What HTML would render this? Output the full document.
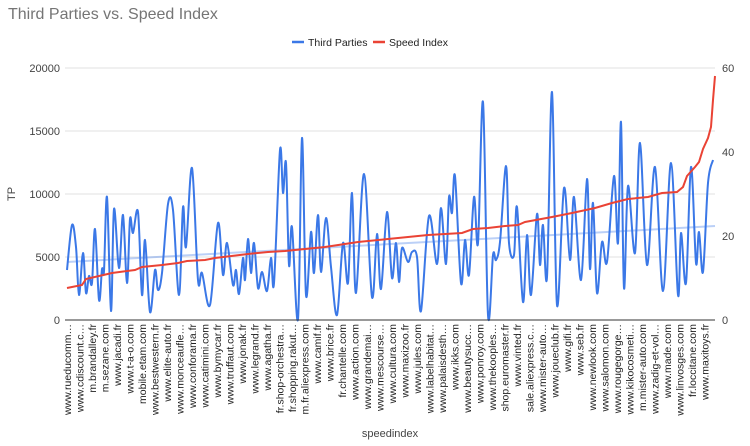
<!DOCTYPE html>
<html><head><meta charset="utf-8"><style>
body{margin:0;background:#fff;}
svg{display:block;font-family:"Liberation Sans",Arial,sans-serif;}
</style></head><body>
<svg id="s" width="750" height="446" viewBox="0 0 750 446">
<rect width="750" height="446" fill="#fff"/>
<text x="8" y="19" font-size="16" fill="#757575">Third Parties vs. Speed Index</text>
<line x1="292" y1="42" x2="304" y2="42" stroke="#3b78e7" stroke-width="2.5"/>
<text x="308" y="46" font-size="10.5" fill="#222">Third Parties</text>
<line x1="373" y1="42" x2="385" y2="42" stroke="#ea4335" stroke-width="2.5"/>
<text x="389" y="46" font-size="10.5" fill="#222">Speed Index</text>
<g stroke="#e0e0e0" stroke-width="1">
<line x1="65" y1="68" x2="715" y2="68"/><line x1="65" y1="131" x2="715" y2="131"/>
<line x1="65" y1="194" x2="715" y2="194"/><line x1="65" y1="257" x2="715" y2="257"/>
</g>
<g font-size="11" fill="#444" text-anchor="end">
<text x="60" y="72">20000</text><text x="60" y="135">15000</text><text x="60" y="198">10000</text><text x="60" y="261">5000</text><text x="60" y="324">0</text>
</g>
<g font-size="11" fill="#444">
<text x="722" y="72">60</text><text x="722" y="156">40</text><text x="722" y="240">20</text><text x="722" y="324">0</text>
</g>
<text transform="translate(15,194) rotate(-90)" font-size="11" fill="#444" text-anchor="middle">TP</text>
<text x="390" y="437" font-size="11" fill="#444" text-anchor="middle">speedindex</text>
<line x1="67" y1="262" x2="715" y2="226" stroke="#3b78e7" stroke-opacity="0.35" stroke-width="2"/>
<path id="blue" fill="none" stroke="#3b78e7" stroke-width="2"/>
<path id="red" fill="none" stroke="#ea4335" stroke-width="2"/>
<line x1="65" y1="320" x2="715" y2="320" stroke="#333" stroke-width="1"/>
<g id="xl" font-size="10.5" fill="#222" text-anchor="end"></g>
</svg>
<script>
var B=[[67,270],[72,225],[76,247],[79,295],[83,253],[86,293],[89,276],[92,283],[95,229],[99,300],[102,269],[104,271],[107,197],[111,311],[114,209],[119,268],[123,215],[127,283],[130,219],[133,233],[138,212],[142,295],[145,240],[150,312],[155,270],[158,290],[162,273],[168,204],[173,210],[179,295],[183,207],[186,247],[192,168],[198,280],[202,273],[210,305],[218,223],[223,275],[227,243],[233,285],[236,270],[239,294],[243,258],[245,280],[248,239],[251,273],[254,243],[258,288],[262,272],[267,291],[271,258],[274,283],[280,150],[283,193],[286,163],[289,265],[292,227],[298,319],[302,138],[306,295],[311,232],[314,273],[318,215],[321,272],[326,218],[331,267],[337,315],[343,243],[348,283],[352,193],[356,293],[364,174],[372,297],[377,234],[381,289],[387,212],[392,278],[396,243],[399,282],[402,248],[408,262],[412,252],[417,257],[421,311],[429,216],[437,264],[441,208],[446,264],[449,197],[452,213],[455,176],[461,283],[465,240],[469,275],[474,197],[478,243],[483,102],[488,315],[493,255],[496,260],[500,242],[506,166],[509,243],[514,255],[517,207],[523,302],[527,235],[531,295],[537,214],[540,265],[543,225],[547,277],[552,92],[557,305],[564,188],[570,260],[574,197],[581,280],[587,179],[590,269],[593,203],[597,293],[602,242],[607,262],[614,176],[618,243],[621,122],[624,288],[628,186],[635,253],[640,143],[647,265],[655,167],[663,291],[671,163],[678,295],[681,233],[686,283],[691,167],[696,263],[699,232],[703,272],[708,183],[713,160]];
var R=[[67,288],[82,285],[86,279],[112,273],[135,270],[142,267],[162,265],[178,263],[187,261],[205,260],[215,258],[248,254],[268,252],[285,251],[325,247],[358,242],[388,239],[398,238],[428,235],[462,233],[473,229],[488,228],[505,226],[518,225],[525,222],[552,217],[572,213],[595,208],[612,203],[628,199],[648,197],[662,193],[677,192],[683,187],[687,176],[695,167],[699,162],[703,149],[708,138],[711,127],[713,100],[715,76]];
function cr(p){var d="M"+p[0][0]+","+p[0][1];for(var i=0;i<p.length-1;i++){var a=p[i-1]||p[i],b=p[i],c=p[i+1],e=p[i+2]||c;
d+=" C"+(b[0]+(c[0]-a[0])/6).toFixed(1)+","+(b[1]+(c[1]-a[1])/6).toFixed(1)+" "+(c[0]-(e[0]-b[0])/6).toFixed(1)+","+(c[1]-(e[1]-b[1])/6).toFixed(1)+" "+c[0]+","+c[1];}return d;}
document.getElementById("blue").setAttribute("d",cr(B));
document.getElementById("red").setAttribute("d","M"+R.map(function(p){return p.join(",")}).join(" L"));
var L=["www.rueducomm…","www.cdiscount.c…","m.brandalley.fr","m.sezane.com","www.jacadi.fr","www.t-a-o.com","mobile.etam.com","www.bestwestern.fr","www.elite-auto.fr","www.monceaufle…","www.conforama.fr","www.catimini.com","www.bymycar.fr","www.truffaut.com","www.jonak.fr","www.legrand.fr","www.agatha.fr","fr.shop-orchestra…","fr.shopping.rakut…","m.fr.aliexpress.com","www.camif.fr","www.brice.fr","fr.chantelle.com","www.action.com","www.grandemai…","www.mescourse…","www.cultura.com","www.maxizoo.fr","www.jules.com","www.labelhabitat…","www.palaisdesth…","www.ikks.com","www.beautysucc…","www.ponroy.com","www.thekooples…","shop.euromaster.fr","www.vinted.fr","sale.aliexpress.c…","www.mister-auto…","www.joueclub.fr","www.gifi.fr","www.seb.fr","www.newlook.com","www.salomon.com","www.rougegorge…","www.kikocosmeti…","m.mister-auto.com","www.zadig-et-vol…","www.made.com","www.linvosges.com","fr.loccitane.com","www.maxitoys.fr"];
var g=document.getElementById("xl"),h="";
for(var i=0;i<L.length;i++){var x=67+i*12.5+4;h+='<text transform="translate('+x.toFixed(1)+',324) rotate(-90)">'+L[i]+'</text>';}
g.innerHTML=h;
</script>
</body></html>
